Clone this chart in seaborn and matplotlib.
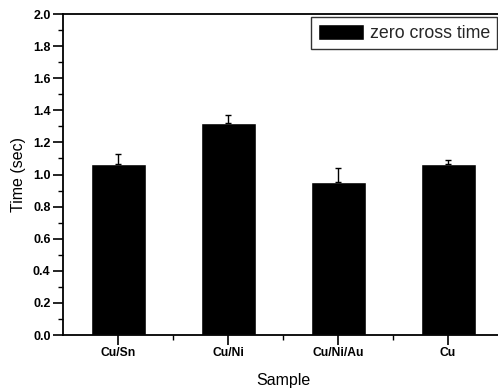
import matplotlib
matplotlib.use("Agg")
import matplotlib.pyplot as plt
import seaborn as sns
import pandas as pd
from matplotlib.ticker import MultipleLocator

samples = ["Cu/Sn", "Cu/Ni", "Cu/Ni/Au", "Cu"]
times = [1.065, 1.32, 0.953, 1.068]
errors = [0.06, 0.05, 0.085, 0.02]

df = pd.DataFrame({"Sample": samples, "Time": times})

sns.set_theme(style="white")
plt.rcParams["font.family"] = ["Liberation Sans", "DejaVu Sans"]

fig = plt.figure(figsize=(4.98, 3.90), dpi=100)
ax = fig.add_axes([63/498, (390-335)/390, (503-63)/498, (335-14)/390])

sns.barplot(data=df, x="Sample", y="Time", color="black", width=0.5,
            errorbar=None, ax=ax, label="zero cross time", saturation=1)
ax.errorbar(range(len(samples)), times, yerr=[[0]*len(errors), errors],
            fmt="none", ecolor="black", elinewidth=1, capsize=2.5, capthick=1)

ax.set_xlim(-0.5, 3.5)
ax.set_ylim(0, 2.0)
ax.yaxis.set_major_locator(MultipleLocator(0.2))
ax.yaxis.set_minor_locator(MultipleLocator(0.1))
ax.set_xticks(range(len(samples)))
ax.set_xticklabels(samples)
ax.set_xticks([0.5, 1.5, 2.5], minor=True)
ax.set_yticklabels([f"{v:.1f}" for v in ax.get_yticks()])

for lab in ax.get_yticklabels():
    lab.set_fontweight("bold")
    lab.set_fontsize(9)
for lab in ax.get_xticklabels():
    lab.set_fontweight("bold")
    lab.set_fontsize(8.7)

ax.tick_params(axis="both", which="major", direction="out", length=7, width=1.2,
               color="black", labelcolor="black", pad=2)
ax.tick_params(axis="both", which="minor", direction="out", length=3.5, width=1,
               color="black")
ax.tick_params(axis="y", left=True, which="both")
ax.tick_params(axis="x", bottom=True, which="both")

for s in ax.spines.values():
    s.set_color("black")
    s.set_linewidth(1.3)

ax.set_xlabel("Sample", fontsize=11.5, color="black", labelpad=10)
ax.set_ylabel("Time (sec)", fontsize=11.5, color="black", labelpad=5)

leg = ax.legend(loc="upper right", bbox_to_anchor=(497/498, 1 - 17/390),
                bbox_transform=fig.transFigure, fancybox=False, frameon=True,
                fontsize=12.8, handlelength=2.6, handleheight=1.0,
                borderpad=0.4, handletextpad=0.3, borderaxespad=0)
leg.get_frame().set_edgecolor("black")
leg.get_frame().set_linewidth(1.0)

fig.savefig("out.png", dpi=100)
